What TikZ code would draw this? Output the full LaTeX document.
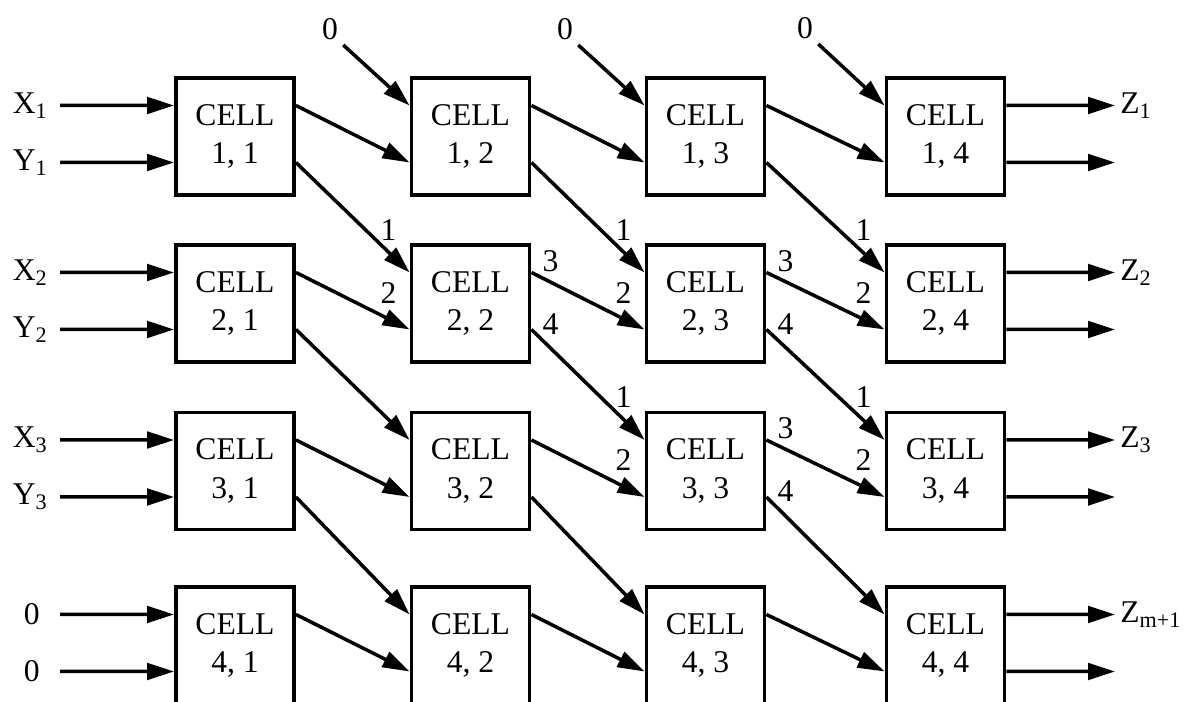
\documentclass[tikz,border=0pt]{standalone}
\usepackage{fontspec}
\setmainfont{Liberation Serif}
\usetikzlibrary{arrows.meta}

\begin{document}
\begin{tikzpicture}
      [>={Triangle[length=5.4mm,width=3.3mm]},
       font=\fontsize{18}{22}\selectfont,
       cell/.style={rectangle,draw=black,line width=2.2pt,minimum width=23.6mm,minimum height=23.4mm,inner sep=0pt,align=center},
       wire/.style={->,line width=2pt},
       hi port/.style={yshift=6.2mm},
       lo port/.style={yshift=-5.2mm},
       inlabel/.style={anchor=east,inner sep=2.4mm},
       outlabel/.style={anchor=west,inner sep=1mm},
       num/.style={inner sep=0pt}]
      \useasboundingbox (0,0) rectangle (23.9,14.04);

      \node (C11) at (4.70,11.31) [cell] {CELL\\1, 1};
      \node (C12) at (9.41,11.31) [cell] {CELL\\1, 2};
      \node (C13) at (14.11,11.31) [cell] {CELL\\1, 3};
      \node (C14) at (18.91,11.31) [cell] {CELL\\1, 4};

      \node (C21) at (4.70,7.97) [cell] {CELL\\2, 1};
      \node (C22) at (9.41,7.97) [cell] {CELL\\2, 2};
      \node (C23) at (14.11,7.97) [cell] {CELL\\2, 3};
      \node (C24) at (18.91,7.97) [cell] {CELL\\2, 4};

      \node (C31) at (4.70,4.62) [cell] {CELL\\3, 1};
      \node (C32) at (9.41,4.62) [cell] {CELL\\3, 2};
      \node (C33) at (14.11,4.62) [cell] {CELL\\3, 3};
      \node (C34) at (18.91,4.62) [cell] {CELL\\3, 4};

      \node (C41) at (4.70,1.13) [cell] {CELL\\4, 1};
      \node (C42) at (9.41,1.13) [cell] {CELL\\4, 2};
      \node (C43) at (14.11,1.13) [cell] {CELL\\4, 3};
      \node (C44) at (18.91,1.13) [cell] {CELL\\4, 4};

      \node (X1) at (1.2,11.93) [inlabel] {X\textsubscript{1}};
      \node (Y1) at (1.2,10.79) [inlabel] {Y\textsubscript{1}};
      \node (X2) at (1.2,8.59) [inlabel] {X\textsubscript{2}};
      \node (Y2) at (1.2,7.45) [inlabel] {Y\textsubscript{2}};
      \node (X3) at (1.2,5.24) [inlabel] {X\textsubscript{3}};
      \node (Y3) at (1.2,4.10) [inlabel] {Y\textsubscript{3}};
      \node (X4) at (1.2,1.75) [inlabel,inner xsep=4mm] {0};
      \node (Y4) at (1.2,0.61) [inlabel,inner xsep=4mm] {0};

      \node (T2) at (6.60,13.46) [inner sep=1mm] {0};
      \node (T3) at (11.30,13.46) [inner sep=1mm] {0};
      \node (T4) at (16.10,13.48) [inner sep=1mm] {0};

      \node (Z1) at (22.3,11.93) [outlabel] {Z\textsubscript{1}};
      \node (Z2) at (22.3,8.59) [outlabel] {Z\textsubscript{2}};
      \node (Z3) at (22.3,5.24) [outlabel] {Z\textsubscript{3}};
      \node (Z4) at (22.3,1.75) [outlabel] {Z\textsubscript{m+1}};
      \coordinate (R1) at (22.3,10.79);
      \coordinate (R2) at (22.3,7.45);
      \coordinate (R3) at (22.3,4.10);
      \coordinate (R4) at (22.3,0.61);

      \node (L221) at (7.77,9.44) [num] {1};
      \node (L222) at (7.77,8.18) [num] {2};
      \node (L223) at (11.01,8.82) [num] {3};
      \node (L224) at (11.01,7.56) [num] {4};
      \node (L231) at (12.47,9.44) [num] {1};
      \node (L232) at (12.47,8.18) [num] {2};
      \node (L233) at (15.71,8.82) [num] {3};
      \node (L234) at (15.71,7.56) [num] {4};
      \node (L241) at (17.27,9.44) [num] {1};
      \node (L242) at (17.27,8.18) [num] {2};
      \node (L331) at (12.47,6.09) [num] {1};
      \node (L332) at (12.47,4.83) [num] {2};
      \node (L333) at (15.71,5.47) [num] {3};
      \node (L334) at (15.71,4.21) [num] {4};
      \node (L341) at (17.27,6.09) [num] {1};
      \node (L342) at (17.27,4.83) [num] {2};

      \draw[wire] (X1) -- ([hi port]C11.west);
      \draw[wire] (Y1) -- ([lo port]C11.west);
      \draw[wire] (X2) -- ([hi port]C21.west);
      \draw[wire] (Y2) -- ([lo port]C21.west);
      \draw[wire] (X3) -- ([hi port]C31.west);
      \draw[wire] (Y3) -- ([lo port]C31.west);
      \draw[wire] (X4) -- ([hi port]C41.west);
      \draw[wire] (Y4) -- ([lo port]C41.west);

      \draw[wire] (T2.south east) -- ([hi port]C12.west);
      \draw[wire] (T3.south east) -- ([hi port]C13.west);
      \draw[wire] (T4.south east) -- ([hi port]C14.west);

      \draw[wire] ([hi port]C11.east) -- ([lo port]C12.west);
      \draw[wire] ([hi port]C12.east) -- ([lo port]C13.west);
      \draw[wire] ([hi port]C13.east) -- ([lo port]C14.west);
      \draw[wire] ([hi port]C21.east) -- ([lo port]C22.west);
      \draw[wire] ([hi port]C22.east) -- ([lo port]C23.west);
      \draw[wire] ([hi port]C23.east) -- ([lo port]C24.west);
      \draw[wire] ([hi port]C31.east) -- ([lo port]C32.west);
      \draw[wire] ([hi port]C32.east) -- ([lo port]C33.west);
      \draw[wire] ([hi port]C33.east) -- ([lo port]C34.west);
      \draw[wire] ([hi port]C41.east) -- ([lo port]C42.west);
      \draw[wire] ([hi port]C42.east) -- ([lo port]C43.west);
      \draw[wire] ([hi port]C43.east) -- ([lo port]C44.west);

      \draw[wire] ([lo port]C11.east) -- ([hi port]C22.west);
      \draw[wire] ([lo port]C12.east) -- ([hi port]C23.west);
      \draw[wire] ([lo port]C13.east) -- ([hi port]C24.west);
      \draw[wire] ([lo port]C21.east) -- ([hi port]C32.west);
      \draw[wire] ([lo port]C22.east) -- ([hi port]C33.west);
      \draw[wire] ([lo port]C23.east) -- ([hi port]C34.west);
      \draw[wire] ([lo port]C31.east) -- ([hi port]C42.west);
      \draw[wire] ([lo port]C32.east) -- ([hi port]C43.west);
      \draw[wire] ([lo port]C33.east) -- ([hi port]C44.west);

      \draw[wire] ([hi port]C14.east) -- (Z1);
      \draw[wire] ([lo port]C14.east) -- (R1);
      \draw[wire] ([hi port]C24.east) -- (Z2);
      \draw[wire] ([lo port]C24.east) -- (R2);
      \draw[wire] ([hi port]C34.east) -- (Z3);
      \draw[wire] ([lo port]C34.east) -- (R3);
      \draw[wire] ([hi port]C44.east) -- (Z4);
      \draw[wire] ([lo port]C44.east) -- (R4);
\end{tikzpicture}
\end{document}
